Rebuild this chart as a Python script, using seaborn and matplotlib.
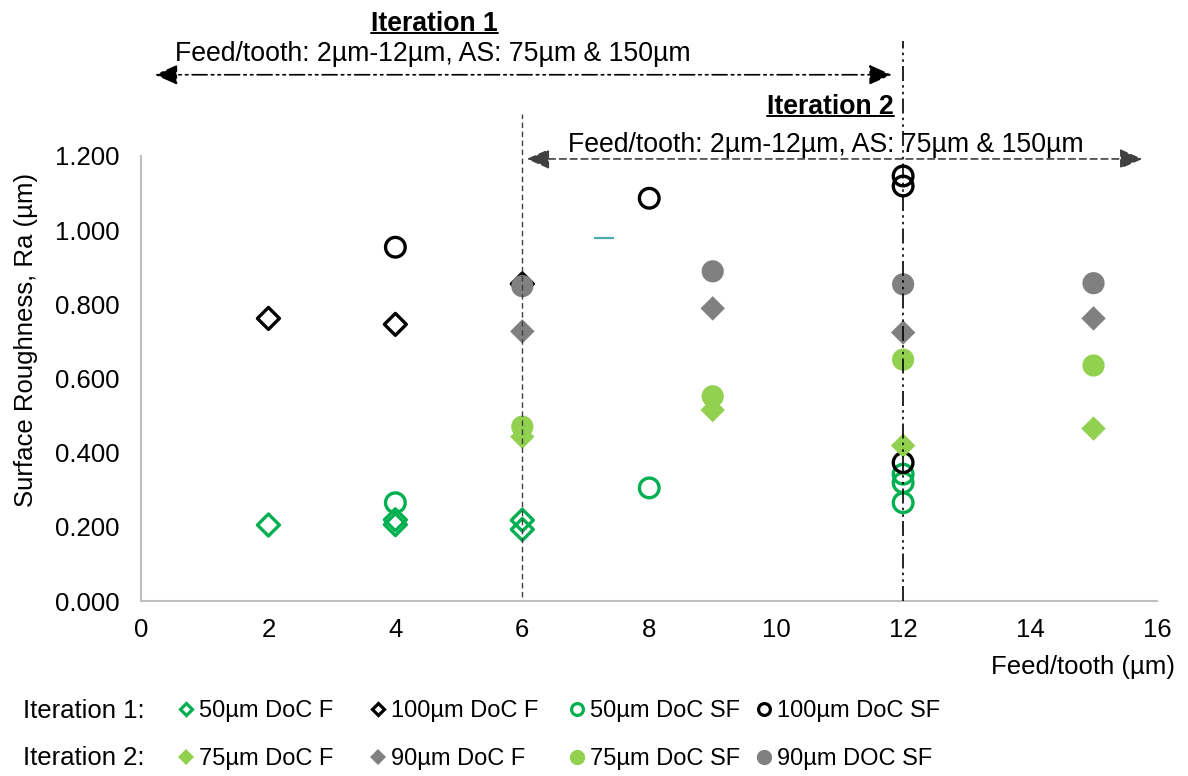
import numpy as np
import pandas as pd
import matplotlib
matplotlib.use("Agg")
import matplotlib.pyplot as plt
import seaborn as sns
from matplotlib.lines import Line2D

# ---------------- data ----------------
it1_50_F_x = [2, 4, 4, 6, 6]
it1_50_F_y = [0.205, 0.219, 0.206, 0.218, 0.193]
it1_100_F_x = [2, 4, 6]
it1_100_F_y = [0.762, 0.746, 0.855]
it1_50_SF_x = [4, 8, 12, 12, 12]
it1_50_SF_y = [0.265, 0.305, 0.342, 0.319, 0.265]
it1_100_SF_x = [4, 8, 12, 12, 12]
it1_100_SF_y = [0.954, 1.086, 1.146, 1.119, 0.373]
it2_75_F_x = [6, 9, 12, 15]
it2_75_F_y = [0.443, 0.515, 0.419, 0.465]
it2_90_F_x = [6, 9, 12, 15]
it2_90_F_y = [0.727, 0.789, 0.724, 0.762]
it2_75_SF_x = [6, 9, 12, 15]
it2_75_SF_y = [0.470, 0.552, 0.651, 0.635]
it2_90_SF_x = [6, 9, 12, 15]
it2_90_SF_y = [0.849, 0.889, 0.854, 0.857]
stray_x = [7.29]
stray_y = [0.978]

x_ticks = [0, 2, 4, 6, 8, 10, 12, 14, 16]
y_ticks = [0.0, 0.2, 0.4, 0.6, 0.8, 1.0, 1.2]

legend_row1 = ["50µm DoC F", "100µm DoC F", "50µm DoC SF", "100µm DoC SF"]
legend_row2 = ["75µm DoC F", "90µm DoC F", "75µm DoC SF", "90µm DOC SF"]
range_text = "Feed/tooth: 2µm-12µm, AS: 75µm & 150µm"

# ---------------- style ----------------
sns.set_theme(style="white")
plt.rcParams["font.family"] = ["Liberation Sans", "DejaVu Sans"]
plt.rcParams["text.color"] = "black"
plt.rcParams["axes.labelcolor"] = "black"
FS = 18.5
FS_TOP = 19.2
FS_LEG = 17

GREEN = "#00B050"
LGREEN = "#92D050"
GRAY = "#808080"
BLACK = "#000000"
DGRAY = "#404040"

fig = plt.figure(figsize=(11.88, 7.76), dpi=100)
ax = fig.add_axes([0.1191, 0.2255, 0.8548, 0.5735])

def open_series(x, y, marker, color, s, lw=2.4):
    sns.scatterplot(x=x, y=y, ax=ax, marker=marker, s=s, color=color,
                    facecolor="none", edgecolor=color, linewidth=lw,
                    legend=False, zorder=3)

def filled_series(x, y, marker, color, s):
    sns.scatterplot(x=x, y=y, ax=ax, marker=marker, s=s, color=color,
                    edgecolor="none", linewidth=0, legend=False, zorder=3)

open_series(it1_50_F_x, it1_50_F_y, "D", GREEN, 125)
open_series(it1_100_F_x, it1_100_F_y, "D", BLACK, 125)
open_series(it1_50_SF_x, it1_50_SF_y, "o", GREEN, 200)
open_series(it1_100_SF_x, it1_100_SF_y, "o", BLACK, 200)
filled_series(it2_75_F_x, it2_75_F_y, "D", LGREEN, 155)
filled_series(it2_90_F_x, it2_90_F_y, "D", GRAY, 155)
filled_series(it2_75_SF_x, it2_75_SF_y, "o", LGREEN, 255)
filled_series(it2_90_SF_x, it2_90_SF_y, "o", GRAY, 255)
sns.scatterplot(x=stray_x, y=stray_y, ax=ax, marker="_", s=200, color="#4BACAC",
                linewidth=1.6, legend=False, zorder=3)

ax.set_xlim(0, 16)
ax.set_ylim(0, 1.2)
ax.set_xticks(x_ticks)
ax.set_xticklabels([str(t) for t in x_ticks])
ax.set_yticks(y_ticks)
ax.set_yticklabels([f"{t:.3f}" for t in y_ticks])
ax.tick_params(axis="both", length=0, labelsize=FS, colors="#000000")
ax.tick_params(axis="y", pad=16)
ax.tick_params(axis="x", pad=12)
for side in ["top", "right"]:
    ax.spines[side].set_visible(False)
for side in ["left", "bottom"]:
    ax.spines[side].set_color("#BFBFBF")
    ax.spines[side].set_linewidth(1.5)
ax.grid(False)

ax.set_xlabel("Feed/tooth (µm)", fontsize=FS, loc="right")
ax.xaxis.set_label_coords(1.0175, -0.122)
ax.set_ylabel("Surface Roughness, Ra (µm)", fontsize=FS)
ax.yaxis.set_label_coords(-0.102, 0.586)

# ---------------- annotations ----------------
DDOT = (0, (9, 2.5, 1.5, 2.5, 1.5, 2.5))
ax.plot([6, 6], [0.01, 1.314], color=DGRAY, lw=1.0, linestyle=(0, (4, 2.5)),
        clip_on=False, zorder=5)
ax.plot([12, 12], [0.0, 1.511], color=BLACK, lw=1.2, linestyle=DDOT,
        clip_on=False, zorder=5)

ax.annotate("", xy=(0.21, 1.419), xytext=(11.82, 1.419), annotation_clip=False,
            arrowprops=dict(arrowstyle="<|-|>,head_length=0.5,head_width=0.22",
                            color=BLACK, lw=1.2,
                            linestyle=DDOT, mutation_scale=28,
                            shrinkA=0, shrinkB=0))
ax.annotate("", xy=(6.07, 1.192), xytext=(15.77, 1.192), annotation_clip=False,
            arrowprops=dict(arrowstyle="<|-|>,head_length=0.5,head_width=0.22",
                            color=DGRAY, lw=1.2,
                            linestyle=(0, (4, 2.5)), mutation_scale=28,
                            shrinkA=0, shrinkB=0))

t_it1 = ax.text(4.614, 1.538, "Iteration 1", fontsize=FS_TOP, fontweight="bold",
                ha="center", va="baseline", clip_on=False)
ax.text(0.53, 1.457, range_text, fontsize=FS_TOP, ha="left", va="baseline", clip_on=False)
t_it2 = ax.text(11.86, 1.314, "Iteration 2", fontsize=FS_TOP, fontweight="bold",
                ha="right", va="baseline", clip_on=False)
ax.text(6.72, 1.211, range_text, fontsize=FS_TOP, ha="left", va="baseline", clip_on=False)

# ---------------- legend ----------------
def h_open(marker, color, ms):
    return Line2D([], [], linestyle="none", marker=marker, markersize=ms,
                  markerfacecolor="none", markeredgecolor=color, markeredgewidth=2.3)

def h_fill(marker, color, ms):
    return Line2D([], [], linestyle="none", marker=marker, markersize=ms,
                  markerfacecolor=color, markeredgecolor=color, markeredgewidth=0)

col_handles = [
    (h_open("D", GREEN, 6.5), h_fill("D", LGREEN, 8.5)),
    (h_open("D", BLACK, 6.5), h_fill("D", GRAY, 8.5)),
    (h_open("o", GREEN, 8.5), h_fill("o", LGREEN, 11.0)),
    (h_open("o", BLACK, 8.5), h_fill("o", GRAY, 11.0)),
]
col_x = [0.1487, 0.3103, 0.4778, 0.6352]
for i, (hx, hy) in enumerate(col_handles):
    fig.legend([hx, hy], [legend_row1[i], legend_row2[i]], loc="center left",
               bbox_to_anchor=(col_x[i], 0.0525), frameon=False, fontsize=FS_LEG,
               handlelength=0.8, handletextpad=0.15, borderpad=0,
               borderaxespad=0, labelspacing=1.1)

fig.text(0.019, 0.0838, "Iteration 1:", fontsize=FS, ha="left", va="center")
fig.text(0.019, 0.0232, "Iteration 2:", fontsize=FS, ha="left", va="center")

# underline the bold iteration titles
fig.canvas.draw()
renderer = fig.canvas.get_renderer()
inv = fig.transFigure.inverted()
for t in (t_it1, t_it2):
    bb = t.get_window_extent(renderer=renderer)
    x0, x1 = bb.x0, bb.x1
    ybase = ax.transData.transform(t.get_position())[1] - 2.0
    (fx0, fy), (fx1, _) = inv.transform([(x0, ybase), (x1, ybase)])
    fig.add_artist(Line2D([fx0, fx1], [fy, fy], transform=fig.transFigure,
                          color=BLACK, lw=1.4))

fig.savefig("out.png", dpi=100)
